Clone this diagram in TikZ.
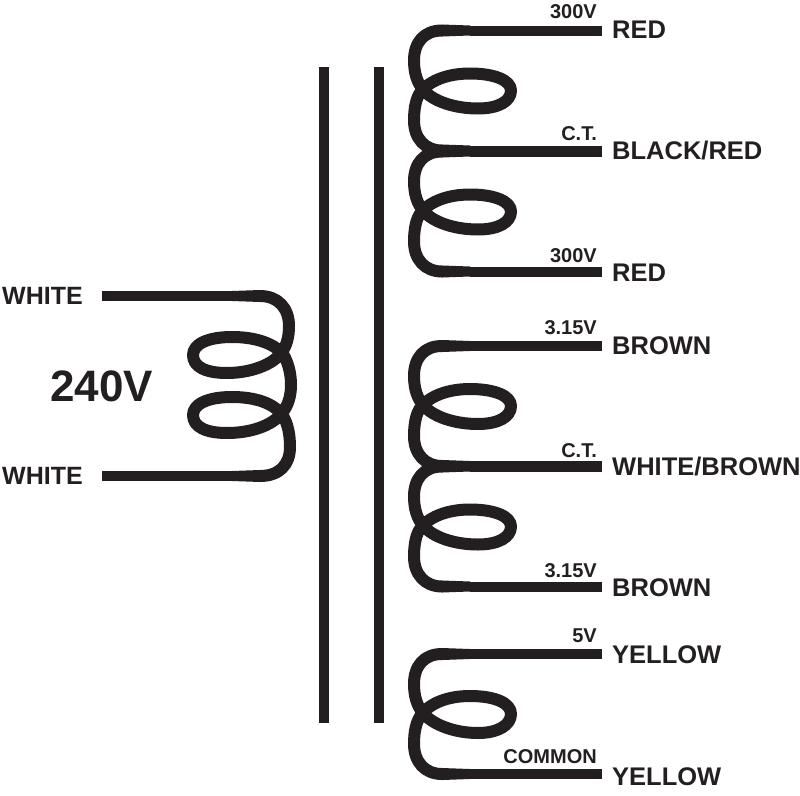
\documentclass[tikz,border=0pt]{standalone}
\usepackage{fontspec}
\setmainfont{Liberation Sans}
\definecolor{ink}{HTML}{231F20}
\newcommand{\taper}[3]{\fill[ink] (#2,#3-5) -- (#1,#3-6) -- (#1,#3+6) -- (#2,#3+5) -- cycle;}
\newcommand{\coilpart}[1]{%
  \draw[wire] (602,#1) -- (470,#1);
  \draw[wire] (470,#1+120) -- (602,#1+120);
  \taper{442}{470}{#1}
  \taper{442}{470}{#1+120}
  \draw[coil] (442.5,#1) -- (442,#1)
    .. controls (424,#1) and (414,#1+12) .. (414,#1+30)
    .. controls (414,#1+42) and (417,#1+52) .. (423,#1+59)
    .. controls (433,#1+71) and (455,#1+78) .. (478,#1+78)
    .. controls (498,#1+78) and (511,#1+71) .. (511,#1+60)
    .. controls (511,#1+50) and (495,#1+43) .. (470,#1+43)
    .. controls (448,#1+43) and (430,#1+50) .. (421,#1+61)
    .. controls (416,#1+67) and (414,#1+78) .. (414,#1+90)
    .. controls (414,#1+108) and (425,#1+120) .. (442,#1+120) -- (442.5,#1+120);}
\tikzset{
  wire/.style={draw=ink,line width=10pt,line cap=butt},
  coil/.style={draw=ink,line width=12pt,line join=round,line cap=butt},
  corebar/.style={draw=ink,line width=10pt},
  big/.style={anchor=base west,text=ink,inner sep=0pt,font=\fontsize{25.5}{28}\selectfont\bfseries},
  small/.style={anchor=base east,text=ink,inner sep=0pt,font=\fontsize{20}{22}\selectfont\bfseries},
  side/.style={anchor=base west,text=ink,inner sep=0pt,font=\fontsize{25}{28}\selectfont\bfseries}
}
\begin{document}
\begin{tikzpicture}[x=1pt,y=-1pt]
\useasboundingbox (0,0) rectangle (800,795);
% core
\draw[corebar] (324,67) -- (324,723);
\draw[corebar] (379,67) -- (379,723);
% primary
\draw[wire] (102,296) -- (232,296);
\draw[wire] (232,476) -- (102,476);
\taper{260}{232}{296}
\taper{260}{232}{476}
\draw[coil] (259.5,296) -- (260,296)
  .. controls (278,296) and (289,308) .. (289,326)
  .. controls (289,336) and (287,345) .. (282,352)
  .. controls (273,365) and (250,373) .. (227,373)
  .. controls (206,373) and (193,367) .. (193,355)
  .. controls (193,344) and (208,337) .. (232,337)
  .. controls (255,337) and (273,343) .. (283,354)
  .. controls (288,362) and (291,373) .. (291,385)
  .. controls (291,396) and (288,406) .. (282,413)
  .. controls (272,426) and (250,433) .. (227,433)
  .. controls (206,433) and (193,427) .. (193,415)
  .. controls (193,404) and (208,397) .. (232,397)
  .. controls (255,397) and (274,403) .. (283,416)
  .. controls (288,424) and (290,435) .. (290,447)
  .. controls (290,465) and (279,476) .. (260,476) -- (259.5,476);
% secondaries
\coilpart{30.5}
\coilpart{151.5}
\coilpart{346}
\coilpart{466.5}
\draw[wire] (602,654) -- (470,654);
\draw[wire] (470,774) -- (602,774);
\taper{442}{470}{654}
\taper{442}{470}{774}
\draw[coil] (442.5,654) -- (442,654)
    .. controls (424,654) and (414,666) .. (414,684)
    .. controls (414,696) and (417,706) .. (423,713)
    .. controls (433,725) and (455,733) .. (478,733)
    .. controls (498,733) and (511,725) .. (511,714)
    .. controls (511,703) and (495,696) .. (470,696)
    .. controls (448,696) and (430,703) .. (421,715)
    .. controls (416,722) and (414,732) .. (414,744)
    .. controls (414,762) and (425,774) .. (442,774) -- (442.5,774);
% labels
\node[side] (w1) at (2,304) {WHITE};
\node[side] (w2) at (2,484) {WHITE};
\node[anchor=base west,text=ink,inner sep=0pt,font=\fontsize{44}{46}\selectfont\bfseries] (v240) at (50,401) {240V};
\node[big] (r1) at (612,38) {RED};
\node[big] (br) at (612,159) {BLACK/RED};
\node[big] (r2) at (612,281) {RED};
\node[big] (b1) at (612,354) {BROWN};
\node[big] (wb) at (612,475) {WHITE/BROWN};
\node[big] (b2) at (612,596) {BROWN};
\node[big] (y1) at (612,663) {YELLOW};
\node[big] (y2) at (612,785) {YELLOW};
\node[small] (s1) at (597,18) {300V};
\node[small] (s2) at (597,140) {C.T.};
\node[small] (s3) at (597,262) {300V};
\node[small] (s4) at (597,334) {3.15V};
\node[small] (s5) at (597,457) {C.T.};
\node[small] (s6) at (597,577) {3.15V};
\node[small] (s7) at (597,642) {5V};
\node[small] (s8) at (597,763) {COMMON};
\end{tikzpicture}
\end{document}
